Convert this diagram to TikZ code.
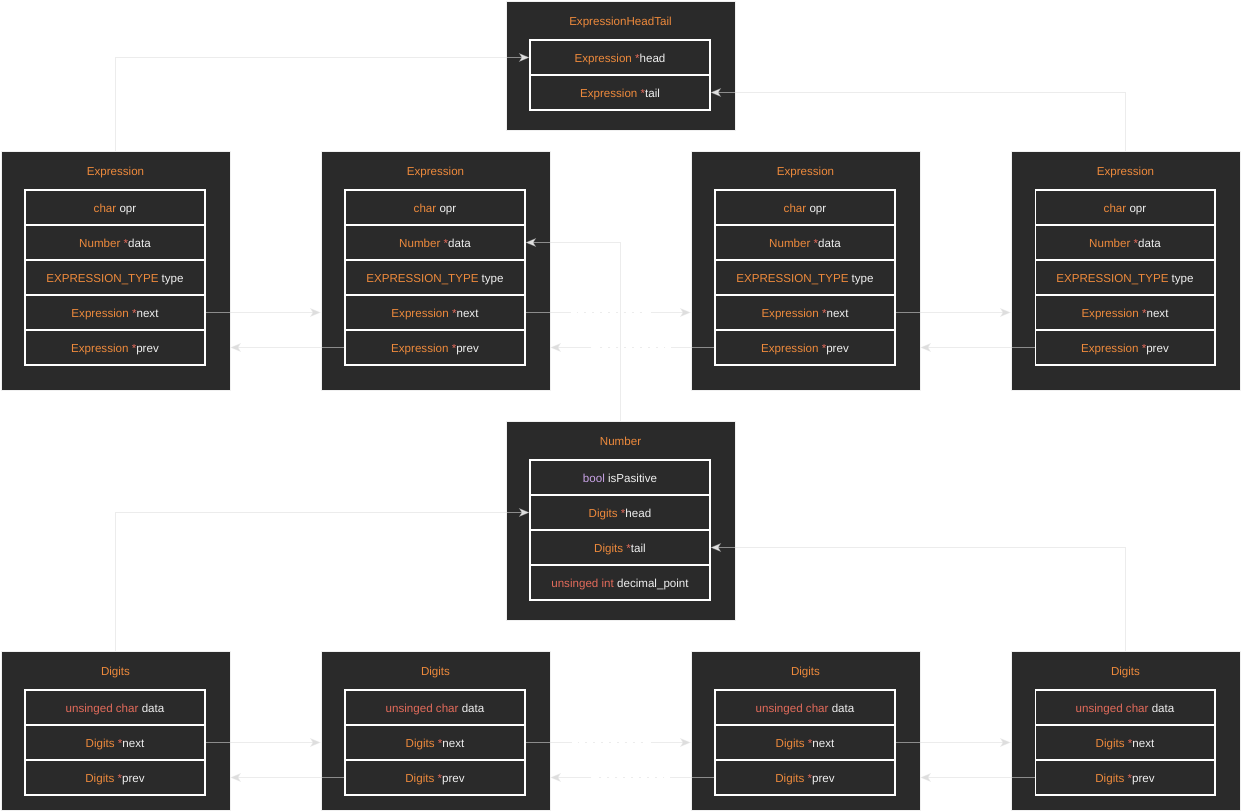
\documentclass[tikz,border=0pt]{standalone}
\usepackage{fontspec}
\setmainfont{Liberation Sans}
\usepackage{tikz}
\usetikzlibrary{arrows.meta,calc,positioning}

\definecolor{boxbg}{HTML}{2A2A2A}
\definecolor{typcol}{HTML}{EE8A3C}
\definecolor{redcol}{HTML}{E36B5B}
\definecolor{purcol}{HTML}{C9A3E6}
\definecolor{fldcol}{HTML}{F0F0F0}
\definecolor{linkcol}{HTML}{DEDEDE}

\newcommand{\tyname}[1]{\textcolor{typcol}{#1}}
\newcommand{\kwname}[1]{\textcolor{redcol}{#1}}
\newcommand{\fdname}[1]{\textcolor{fldcol}{#1}}
\newcommand{\ptrstar}{\textcolor{redcol}{*}}

\begin{document}
\begin{tikzpicture}[x=0.02cm,y=-0.02cm,
  outerbox/.style={draw=gray!12, fill=boxbg, minimum width=4.58cm, inner sep=0pt},
  title/.style={text=typcol, text height=6pt, text depth=0pt, font=\fontsize{6.6}{8}\selectfont},
  field/.style={draw=white, fill=boxbg, line width=0.6pt, minimum width=3.6cm, minimum height=0.7cm, inner sep=0pt, text height=6pt, text depth=0pt, font=\fontsize{6.6}{8}\selectfont},
  link/.style={draw=linkcol, draw opacity=0.55, line width=0.6pt},
  dots/.style={link, line width=0.8pt, dash pattern=on 1pt off 3.5pt},
  arrow/.style={-{Stealth[length=6pt,width=5pt,inset=1.5pt]}}]

\useasboundingbox (0,0) rectangle (1241,811);
\fill[white] (0,0) rectangle (1241,811);

% head / tail
\node[outerbox, minimum height=2.58cm] (headtail) at (620.5,65.5) {};
\node[title] (headtailt) at (620.5,20) {ExpressionHeadTail};
\node[field] (headtailhead) at (620,57.5) {\tyname{Expression} \ptrstar\fdname{head}};
\node[field] (headtailtail) at (620,92.5) {\tyname{Expression} \ptrstar\fdname{tail}};

% expressions
\node[outerbox, minimum height=4.78cm] (expr1) at (115.5,270.5) {};
\node[title] (expr1t) at (115.5,170) {Expression};
\node[field] (expr1opr) at (115,207.5) {\tyname{char} \fdname{opr}};
\node[field] (expr1data) at (115,242.5) {\tyname{Number} \ptrstar\fdname{data}};
\node[field] (expr1type) at (115,277.5) {\tyname{EXPRESSION\_TYPE} \fdname{type}};
\node[field] (expr1next) at (115,312.5) {\tyname{Expression} \ptrstar\fdname{next}};
\node[field] (expr1prev) at (115,347.5) {\tyname{Expression} \ptrstar\fdname{prev}};

\node[outerbox, minimum height=4.78cm] (expr2) at (435.5,270.5) {};
\node[title] (expr2t) at (435.5,170) {Expression};
\node[field] (expr2opr) at (435,207.5) {\tyname{char} \fdname{opr}};
\node[field] (expr2data) at (435,242.5) {\tyname{Number} \ptrstar\fdname{data}};
\node[field] (expr2type) at (435,277.5) {\tyname{EXPRESSION\_TYPE} \fdname{type}};
\node[field] (expr2next) at (435,312.5) {\tyname{Expression} \ptrstar\fdname{next}};
\node[field] (expr2prev) at (435,347.5) {\tyname{Expression} \ptrstar\fdname{prev}};

\node[outerbox, minimum height=4.78cm] (expr3) at (805.5,270.5) {};
\node[title] (expr3t) at (805.5,170) {Expression};
\node[field] (expr3opr) at (805,207.5) {\tyname{char} \fdname{opr}};
\node[field] (expr3data) at (805,242.5) {\tyname{Number} \ptrstar\fdname{data}};
\node[field] (expr3type) at (805,277.5) {\tyname{EXPRESSION\_TYPE} \fdname{type}};
\node[field] (expr3next) at (805,312.5) {\tyname{Expression} \ptrstar\fdname{next}};
\node[field] (expr3prev) at (805,347.5) {\tyname{Expression} \ptrstar\fdname{prev}};

\node[outerbox, minimum height=4.78cm] (expr4) at (1125.5,270.5) {};
\node[title] (expr4t) at (1125.5,170) {Expression};
\node[field] (expr4opr) at (1125,207.5) {\tyname{char} \fdname{opr}};
\node[field] (expr4data) at (1125,242.5) {\tyname{Number} \ptrstar\fdname{data}};
\node[field] (expr4type) at (1125,277.5) {\tyname{EXPRESSION\_TYPE} \fdname{type}};
\node[field] (expr4next) at (1125,312.5) {\tyname{Expression} \ptrstar\fdname{next}};
\node[field] (expr4prev) at (1125,347.5) {\tyname{Expression} \ptrstar\fdname{prev}};

% number
\node[outerbox, minimum height=3.98cm] (number) at (620.5,520.5) {};
\node[title] (numbert) at (620.5,440) {Number};
\node[field] (numsign) at (620,477.5) {\textcolor{purcol}{bool} \fdname{isPasitive}};
\node[field] (numhead) at (620,512.5) {\tyname{Digits} \ptrstar\fdname{head}};
\node[field] (numtail) at (620,547.5) {\tyname{Digits} \ptrstar\fdname{tail}};
\node[field] (numpoint) at (620,582.5) {\kwname{unsinged int} \fdname{decimal\_point}};

% digits
\node[outerbox, minimum height=3.18cm] (digits1) at (115.5,730.5) {};
\node[title] (digits1t) at (115.5,670) {Digits};
\node[field] (digits1data) at (115,707.5) {\kwname{unsinged char} \fdname{data}};
\node[field] (digits1next) at (115,742.5) {\tyname{Digits} \ptrstar\fdname{next}};
\node[field] (digits1prev) at (115,777.5) {\tyname{Digits} \ptrstar\fdname{prev}};

\node[outerbox, minimum height=3.18cm] (digits2) at (435.5,730.5) {};
\node[title] (digits2t) at (435.5,670) {Digits};
\node[field] (digits2data) at (435,707.5) {\kwname{unsinged char} \fdname{data}};
\node[field] (digits2next) at (435,742.5) {\tyname{Digits} \ptrstar\fdname{next}};
\node[field] (digits2prev) at (435,777.5) {\tyname{Digits} \ptrstar\fdname{prev}};

\node[outerbox, minimum height=3.18cm] (digits3) at (805.5,730.5) {};
\node[title] (digits3t) at (805.5,670) {Digits};
\node[field] (digits3data) at (805,707.5) {\kwname{unsinged char} \fdname{data}};
\node[field] (digits3next) at (805,742.5) {\tyname{Digits} \ptrstar\fdname{next}};
\node[field] (digits3prev) at (805,777.5) {\tyname{Digits} \ptrstar\fdname{prev}};

\node[outerbox, minimum height=3.18cm] (digits4) at (1125.5,730.5) {};
\node[title] (digits4t) at (1125.5,670) {Digits};
\node[field] (digits4data) at (1125,707.5) {\kwname{unsinged char} \fdname{data}};
\node[field] (digits4next) at (1125,742.5) {\tyname{Digits} \ptrstar\fdname{next}};
\node[field] (digits4prev) at (1125,777.5) {\tyname{Digits} \ptrstar\fdname{prev}};

% links between expressions
\draw[link,arrow] (expr1next.east) -- (expr2.west |- expr1next.east);
\draw[link,arrow] (expr2prev.west) -- (expr1.east |- expr2prev.west);
\draw[link,arrow] (expr3next.east) -- (expr4.west |- expr3next.east);
\draw[link,arrow] (expr4prev.west) -- (expr3.east |- expr4prev.west);

\coordinate (en1) at ($(expr2next.east)+(45,0)$);
\coordinate (en2) at ($(expr2next.east)+(125,0)$);
\draw[link] (expr2next.east) -- (en1);
\draw[dots] ($(en1)+(6,0)$) -- ($(en2)+(-4,0)$);
\draw[link,arrow] (en2) -- (expr3.west |- expr2next.east);
\coordinate (ep1) at ($(expr3prev.west)+(-43,0)$);
\coordinate (ep2) at ($(expr3prev.west)+(-123,0)$);
\draw[link] (expr3prev.west) -- (ep1);
\draw[dots] ($(ep1)+(-6,0)$) -- ($(ep2)+(4,0)$);
\draw[link,arrow] (ep2) -- (expr2.east |- expr3prev.west);

% links between digits
\draw[link,arrow] (digits1next.east) -- (digits2.west |- digits1next.east);
\draw[link,arrow] (digits2prev.west) -- (digits1.east |- digits2prev.west);
\draw[link,arrow] (digits3next.east) -- (digits4.west |- digits3next.east);
\draw[link,arrow] (digits4prev.west) -- (digits3.east |- digits4prev.west);

\coordinate (dn1) at ($(digits2next.east)+(46,0)$);
\coordinate (dn2) at ($(digits2next.east)+(125,0)$);
\draw[link] (digits2next.east) -- (dn1);
\draw[dots] ($(dn1)+(6,0)$) -- ($(dn2)+(-4,0)$);
\draw[link,arrow] (dn2) -- (digits3.west |- digits2next.east);
\coordinate (dp1) at ($(digits3prev.west)+(-44,0)$);
\coordinate (dp2) at ($(digits3prev.west)+(-123,0)$);
\draw[link] (digits3prev.west) -- (dp1);
\draw[dots] ($(dp1)+(-6,0)$) -- ($(dp2)+(4,0)$);
\draw[link,arrow] (dp2) -- (digits2.east |- digits3prev.west);

% head / tail pointers
\draw[link,arrow] (expr1.north) |- (headtailhead.west);
\draw[link,arrow] (expr4.north) |- (headtailtail.east);
\draw[link,arrow] (number.north) |- (expr2data.east);
\draw[link,arrow] (digits1.north) |- (numhead.west);
\draw[link,arrow] (digits4.north) |- (numtail.east);

\end{tikzpicture}
\end{document}
